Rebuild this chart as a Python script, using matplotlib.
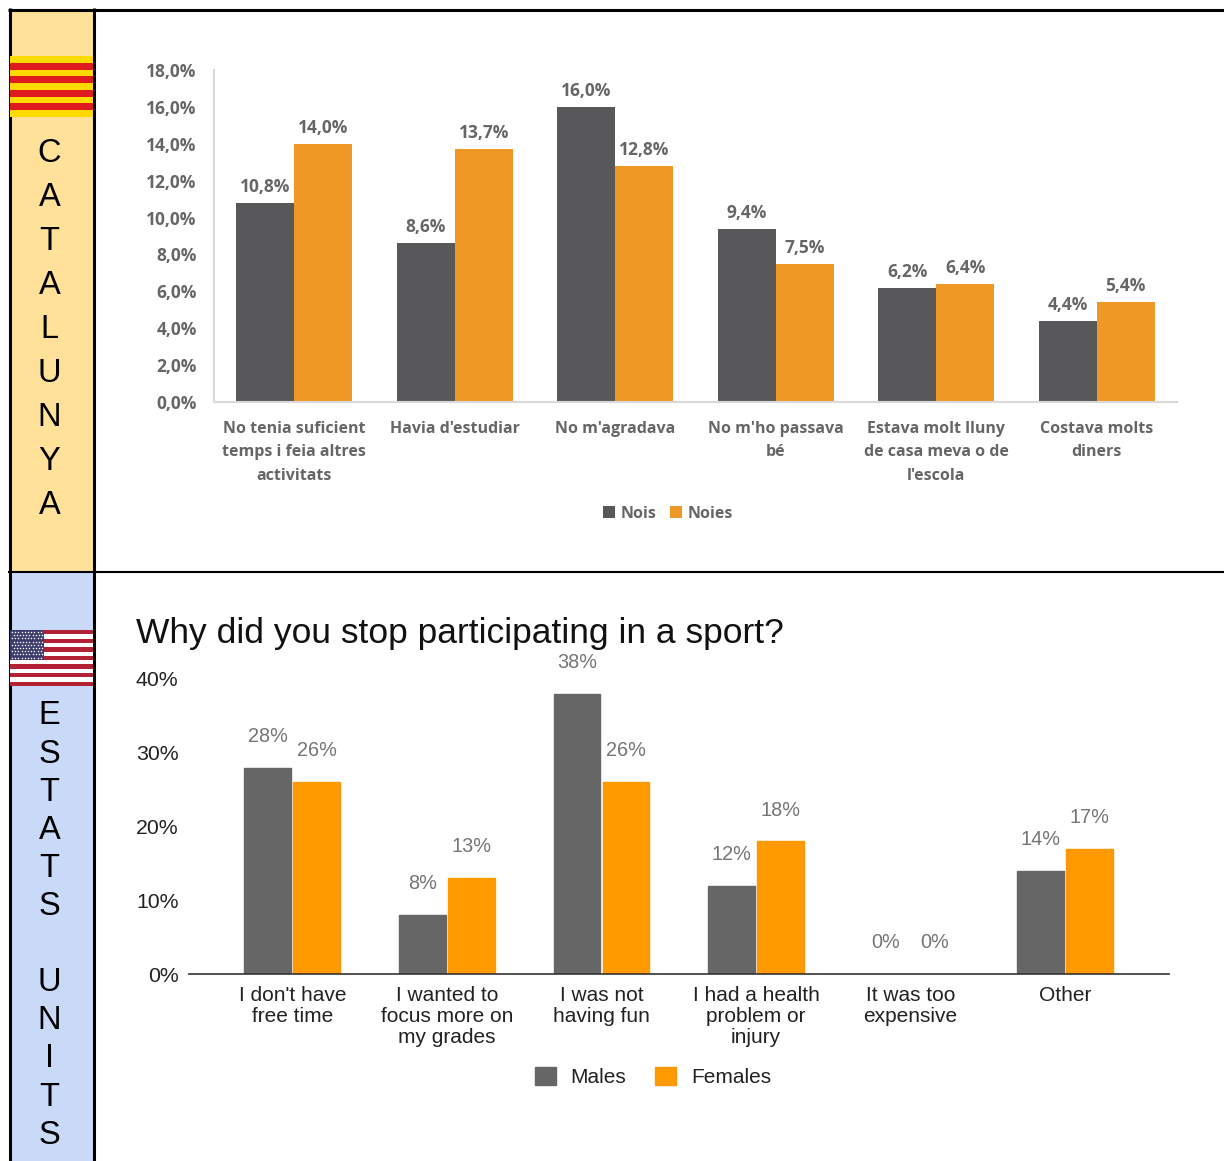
import numpy as np
import matplotlib
matplotlib.use('Agg')
import matplotlib.pyplot as plt
from matplotlib.patches import Rectangle

W, H = 1224, 1161
plt.rcParams['font.family'] = ['Liberation Sans', 'DejaVu Sans']

# Catalunya chart
cat_labels = ["No tenia suficient\ntemps i feia altres\nactivitats", "Havia d'estudiar", "No m'agradava",
              "No m'ho passava\nbé", "Estava molt lluny\nde casa meva o de\nl'escola", "Costava molts\ndiners"]
nois = [10.8, 8.6, 16.0, 9.4, 6.2, 4.4]
noies = [14.0, 13.7, 12.8, 7.5, 6.4, 5.4]
cat_ticks = [0, 2, 4, 6, 8, 10, 12, 14, 16, 18]

# US chart
us_labels = ["I don't have\nfree time", "I wanted to\nfocus more on\nmy grades", "I was not\nhaving fun",
             "I had a health\nproblem or\ninjury", "It was too\nexpensive", "Other"]
males = [28, 8, 38, 12, 0, 14]
females = [26, 13, 26, 18, 0, 17]
us_ticks = [0, 10, 20, 30, 40]

cat_word = "CATALUNYA"
us_word = "ESTATS UNITS"

OPEN = ['Open Sans', 'DejaVu Sans']

fig = plt.figure(figsize=(W / 100, H / 100), dpi=100, facecolor='white')


def px_axes(x0, y0, x1, y1, **kw):
    # axes box given in picture pixels (y downwards)
    return fig.add_axes([x0 / W, 1 - y1 / H, (x1 - x0) / W, (y1 - y0) / H], **kw)


# background layer in pixels: side panels, borders, flags, side letters
bg = px_axes(0, 0, W, H)
bg.set_xlim(0, W)
bg.set_ylim(H, 0)
bg.axis('off')
bg.add_patch(Rectangle((10, 10), 83, 562, color='#FFE199', lw=0))
bg.add_patch(Rectangle((10, 572), 83, 589, color='#C9DAF8', lw=0))
bg.plot([9.5, 9.5], [8, H], color='black', lw=2.2, solid_capstyle='butt')
bg.plot([93.5, 93.5], [8, H], color='black', lw=2.2, solid_capstyle='butt')
bg.plot([8, W], [9.5, 9.5], color='black', lw=2.2, solid_capstyle='butt')
bg.plot([8, W], [572, 572], color='black', lw=1.5, solid_capstyle='butt')

# senyera
bg.add_patch(Rectangle((10, 56), 83, 61, color='#FFDA00', lw=0, zorder=5))
for k in range(4):
    bg.add_patch(Rectangle((10, 63 + k * 13.45), 83, 6.7, color='#E01B1F', lw=0, zorder=6))

# stars and stripes
bg.add_patch(Rectangle((10, 630), 83, 56, color='white', lw=0, zorder=5))
for k in range(7):
    bg.add_patch(Rectangle((10, 630 + k * 8.6), 83, 4.3, color='#B22234', lw=0, zorder=6))
bg.add_patch(Rectangle((10, 630), 34, 30, color='#3C3B6E', lw=0, zorder=7))
for r in range(9):
    xs = np.arange(12 + (r % 2) * 1.5, 44, 3.2)
    bg.scatter(xs, np.full(len(xs), 632 + r * 3.2), s=1.2, color='white', lw=0, zorder=8)

for k, ch in enumerate(cat_word):
    bg.text(49.5, 154 + k * 44, ch, fontsize=23.5, color='black', ha='center', va='center')
for k, ch in enumerate(us_word):
    bg.text(49.5, 716 + k * 38.1, ch, fontsize=23.5, color='black', ha='center', va='center')

# top chart
ax = px_axes(214, 70, 1177, 402)
ax.patch.set_alpha(0)
x = np.arange(len(cat_labels))
w = 58 / 160.5
b1 = ax.bar(x - w / 2, nois, w, color='#58585A', label='Nois')
b2 = ax.bar(x + w / 2, noies, w, color='#F09826', label='Noies')
ax.set_xlim(-0.5, 5.5)
ax.set_ylim(0, 18)
ax.set_yticks(cat_ticks)
ax.set_yticklabels([f'{t},0%' for t in cat_ticks], fontsize=12.5, color='#666666', family=OPEN, fontweight='bold')
ax.set_xticks(x)
ax.set_xticklabels(cat_labels, fontsize=11.5, color='#666666', linespacing=1.64, family=OPEN, fontweight='bold')
ax.tick_params(axis='both', length=0)
ax.tick_params(axis='y', pad=12.5)
ax.tick_params(axis='x', pad=13.5)
for s in ['top', 'right']:
    ax.spines[s].set_visible(False)
for s in ['left', 'bottom']:
    ax.spines[s].set_color('#D9D9D9')
    ax.spines[s].set_linewidth(1.5)
for bars, vals in [(b1, nois), (b2, noies)]:
    for bar, v in zip(bars, vals):
        ax.annotate(f'{v:.1f}'.replace('.', ',') + '%', (bar.get_x() + bar.get_width() / 2, v),
                    xytext=(0, 11.5), textcoords='offset points', ha='center', va='center',
                    fontsize=12.5, color='#666666', family=OPEN, fontweight='bold')
ax.legend(loc='center', bbox_to_anchor=(668 / W, 1 - 513.5 / H), bbox_transform=fig.transFigure,
          ncol=2, frameon=False, handlelength=0.75, handleheight=0.75, handletextpad=0.3, columnspacing=0.9,
          prop={'family': OPEN, 'weight': 'bold', 'size': 11.5}, labelcolor='#666666')

# bottom chart
ax2 = px_axes(189, 679, 1169, 974)
ax2.patch.set_alpha(0)
x2 = np.arange(len(us_labels))
w2 = 46.6 / 154.6
off = 24.5 / 154.6
b3 = ax2.bar(x2 - off, males, w2, color='#666666', edgecolor='#666666', linewidth=1, joinstyle='round', label='Males')
b4 = ax2.bar(x2 + off, females, w2, color='#FF9900', edgecolor='#FF9900', linewidth=1, joinstyle='round', label='Females')
ax2.set_xlim(-0.668, 5.672)
ax2.set_ylim(0, 40)
ax2.set_yticks(us_ticks)
ax2.set_yticklabels([f'{t}%' for t in us_ticks], fontsize=15.3, color='#222222')
ax2.set_xticks(x2)
ax2.set_xticklabels(us_labels, fontsize=15, color='#222222', linespacing=1.14)
ax2.tick_params(axis='both', length=0)
ax2.tick_params(axis='y', pad=7.5)
ax2.tick_params(axis='x', pad=8.5)
for s in ['top', 'right', 'left']:
    ax2.spines[s].set_visible(False)
ax2.spines['bottom'].set_color('#333333')
ax2.spines['bottom'].set_linewidth(1.2)
for bars, vals in [(b3, males), (b4, females)]:
    for bar, v in zip(bars, vals):
        if v == 0:
            bar.set_visible(False)
        ax2.annotate(f'{v}%', (bar.get_x() + bar.get_width() / 2, v), xytext=(0, 22.5), textcoords='offset points',
                     ha='center', va='center', fontsize=14.3, color='#757575', annotation_clip=False)
ax2.legend(loc='center', bbox_to_anchor=(653 / W, 1 - 1077 / H), bbox_transform=fig.transFigure,
           ncol=2, frameon=False, handlelength=1.0, handleheight=1.0, handletextpad=0.7, columnspacing=1.4,
           prop={'size': 15}, labelcolor='#222222')
fig.text(136 / W, 1 - 634 / H, 'Why did you stop participating in a sport?', fontsize=25.5, color='#111111',
         ha='left', va='center')

fig.savefig('out.png', dpi=100)
